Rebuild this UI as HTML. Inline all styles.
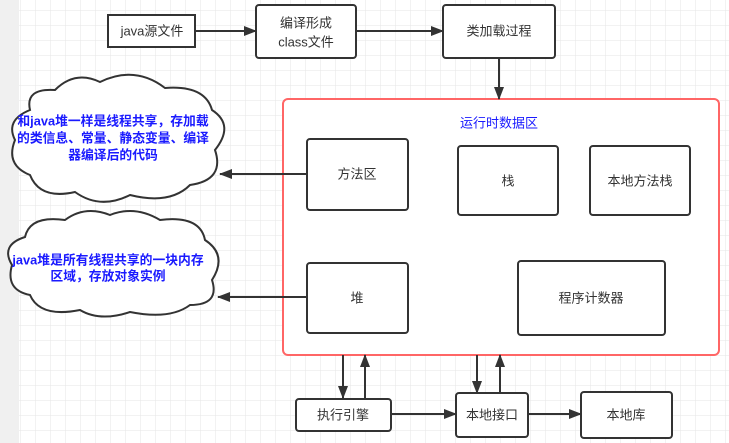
<!DOCTYPE html>
<html><head><meta charset="utf-8"><style>
body{margin:0;width:729px;height:443px;overflow:hidden;background:#fff}
svg{display:block}
text{font-family:"Liberation Sans","Noto Sans CJK SC",sans-serif;font-size:13px;fill:#333;text-anchor:middle;dominant-baseline:central}
.b{fill:#1a1aff;font-weight:bold;font-size:12.8px}
</style></head><body>
<svg width="729" height="443" viewBox="0 0 729 443">
<defs>
<pattern id="g" x="20" y="10" width="15" height="15" patternUnits="userSpaceOnUse">
<path d="M0 0H15M0 0V15" stroke="#e6e6e6" stroke-width="1" fill="none"/>
</pattern>
<marker id="a" markerWidth="13" markerHeight="10" refX="12" refY="5" orient="auto" markerUnits="userSpaceOnUse">
<path d="M0 0L13 5L0 10z" fill="#333"/>
</marker>
</defs>
<rect width="729" height="443" fill="#fff"/>
<rect x="19" width="710" height="443" fill="url(#g)"/>
<rect width="19" height="443" fill="#f0f0f0"/>
<g stroke="#333" stroke-width="2" fill="#fff">
<rect x="108" y="15" width="87" height="32"/>
<rect x="256" y="5" width="100" height="53" rx="3"/>
<rect x="443" y="5" width="112" height="53" rx="3"/>
<rect x="283" y="99" width="436" height="256" rx="5" stroke="#ff6666"/>
<rect x="307" y="139" width="101" height="71" rx="3"/>
<rect x="458" y="146" width="100" height="69" rx="3"/>
<rect x="590" y="146" width="100" height="69" rx="3"/>
<rect x="307" y="263" width="101" height="70" rx="3"/>
<rect x="518" y="261" width="147" height="74" rx="3"/>
<rect x="296" y="399" width="95" height="32" rx="3"/>
<rect x="456" y="393" width="72" height="44" rx="3"/>
<rect x="581" y="392" width="91" height="46" rx="3"/>
<path d="M30 110 Q25 88 55 90 Q75 70 100 82 Q135 65 165 88 Q205 85 212 110 Q235 125 215 150 Q225 180 190 185 Q170 205 130 195 Q100 210 75 192 Q40 200 30 175 Q5 165 15 140 Q5 120 30 110Z"/>
<path d="M25 237 Q30 215 65 220 Q85 205 110 215 Q135 205 160 220 Q200 215 205 240 Q228 255 212 280 Q220 305 190 305 Q170 320 130 312 Q100 322 80 310 Q40 318 30 295 Q5 290 12 265 Q0 245 25 237Z"/>
</g>
<g stroke="#333" stroke-width="2" fill="none" marker-end="url(#a)">
<path d="M195 31H256"/><path d="M356 31H443"/><path d="M499 58V99"/>
<path d="M307 174H220"/><path d="M307 297H218"/>
<path d="M343 355V398"/><path d="M365 398V355"/>
<path d="M477 355V393"/><path d="M500 393V355"/>
<path d="M391 414H456"/><path d="M528 414H581"/>
</g>
<text x="152" y="31">java源文件</text>
<text x="306" y="23">编译形成</text><text x="306" y="42">class文件</text>
<text x="499" y="31">类加载过程</text>
<text x="499" y="123" style="fill:#1a1aff">运行时数据区</text>
<text x="357" y="174">方法区</text>
<text x="508" y="181">栈</text>
<text x="640" y="181">本地方法栈</text>
<text x="357" y="298">堆</text>
<text x="591" y="298">程序计数器</text>
<text x="343" y="415">执行引擎</text>
<text x="492" y="415">本地接口</text>
<text x="626" y="415">本地库</text>
<text class="b" x="113" y="121">和java堆一样是线程共享，存加载</text>
<text class="b" x="113" y="138">的类信息、常量、静态变量、编译</text>
<text class="b" x="113" y="155">器编译后的代码</text>
<text class="b" x="108" y="260">java堆是所有线程共享的一块内存</text>
<text class="b" x="108" y="276">区域，存放对象实例</text>
</svg>
</body></html>
